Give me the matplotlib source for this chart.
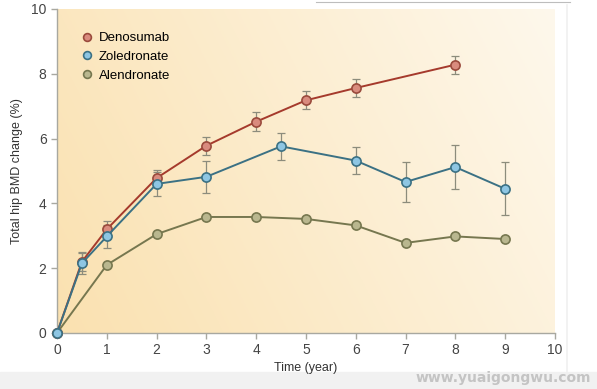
import numpy as np
import matplotlib.pyplot as plt
from matplotlib.lines import Line2D
from matplotlib.patches import Rectangle

plt.rcParams['font.family'] = ['Liberation Sans', 'DejaVu Sans']

# data
deno_x = [0, 0.5, 1, 2, 3, 4, 5, 6, 8]
deno_y = [0, 2.2, 3.2, 4.78, 5.78, 6.52, 7.18, 7.56, 8.28]
deno_err = [0, 0.3, 0.25, 0.25, 0.28, 0.3, 0.28, 0.28, 0.28]

zol_x = [0, 0.5, 1, 2, 3, 4.5, 6, 7, 8, 9]
zol_y = [0, 2.15, 2.98, 4.6, 4.82, 5.76, 5.32, 4.66, 5.12, 4.45]
zol_err = [0, 0.32, 0.36, 0.38, 0.5, 0.42, 0.42, 0.62, 0.68, 0.82]

alen_x = [0, 1, 2, 3, 4, 5, 6, 7, 8, 9]
alen_y = [0, 2.1, 3.05, 3.58, 3.58, 3.52, 3.32, 2.78, 2.98, 2.9]

xticks = list(range(0, 11))
yticks = [0, 2, 4, 6, 8, 10]

fig = plt.figure(figsize=(5.97, 3.89), dpi=100)
ax = fig.add_axes([0.0955, 0.144, 0.834, 0.833])

# warm gradient background
gx = np.linspace(0, 1, 200)
gy = np.linspace(0, 1, 100)
GX, GY = np.meshgrid(gx, gy)
t = np.clip(0.75 * GX + 0.25 * GY, 0, 1)
c0 = np.array([250, 225, 176]) / 255
c1 = np.array([254, 248, 236]) / 255
img = c0[None, None, :] * (1 - t[..., None]) + c1[None, None, :] * t[..., None]
ax.imshow(img, extent=(0, 10, 0, 10), origin='lower', aspect='auto', zorder=0)

ecol = '#8c8c7c'
ax.errorbar(deno_x, deno_y, yerr=deno_err, fmt='none', ecolor=ecol,
            elinewidth=0.9, capsize=3, capthick=0.9, zorder=2)
ax.errorbar(zol_x, zol_y, yerr=zol_err, fmt='none', ecolor=ecol,
            elinewidth=0.9, capsize=3, capthick=0.9, zorder=2)

ms = 6.6
ax.plot(alen_x, alen_y, '-o', color='#76774f', lw=1.4, ms=ms,
        mfc='#b9b78f', mec='#76774f', mew=1.2, label='Alendronate',
        zorder=3, clip_on=False)
ax.plot(deno_x, deno_y, '-o', color='#a53a2c', lw=1.4, ms=ms,
        mfc='#d98b7e', mec='#9a4a3c', mew=1.2, label='Denosumab',
        zorder=4, clip_on=False)
ax.plot(zol_x, zol_y, '-o', color='#3b7184', lw=1.4, ms=ms,
        mfc='#8ec6e3', mec='#3b7184', mew=1.2, label='Zoledronate',
        zorder=5, clip_on=False)

ax.set_xlim(0, 10)
ax.set_ylim(0, 10)
ax.set_xticks(xticks)
ax.set_yticks(yticks)
for s in ['top', 'right']:
    ax.spines[s].set_visible(False)
for s in ['left', 'bottom']:
    ax.spines[s].set_color('#a8a8a0')
    ax.spines[s].set_linewidth(1.0)
ax.tick_params(colors='#a8a8a0', labelcolor='#444444', labelsize=10,
               length=4, width=1.0, direction='out')
ax.set_xlabel('Time (year)', fontsize=9, color='#333333', labelpad=3)
ax.set_ylabel('Total hip BMD change (%)', fontsize=9, color='#333333', labelpad=6)

h, l = ax.get_legend_handles_labels()
order = [1, 2, 0]
ax.legend([h[i] for i in order], [l[i] for i in order], loc='upper left',
          bbox_to_anchor=(0.05, 0.945), frameon=False, fontsize=9.5,
          handlelength=0, handletextpad=0.9, labelspacing=0.5,
          markerscale=0.85, borderaxespad=0)

# grey strip with watermark at the bottom
fig.add_artist(Rectangle((0, 0), 1, 17 / 389, transform=fig.transFigure,
                         color='#f1f1f1', zorder=0))
fig.text(0.99, 0.01, 'www.yuaigongwu.com', ha='right',
         va='bottom', fontsize=10, fontweight='bold', color='#c4c4c4',
         family='DejaVu Sans')
# faint table line at the top
fig.add_artist(Line2D([316 / 597, 570 / 597], [387 / 389, 387 / 389],
                      transform=fig.transFigure, color='#bdbdbd', lw=0.8))
fig.add_artist(Line2D([567 / 597, 567 / 597], [6 / 389, 384 / 389],
                      transform=fig.transFigure, color='#f0f0f0', lw=1.2))

fig.savefig('out.png', dpi=100)
